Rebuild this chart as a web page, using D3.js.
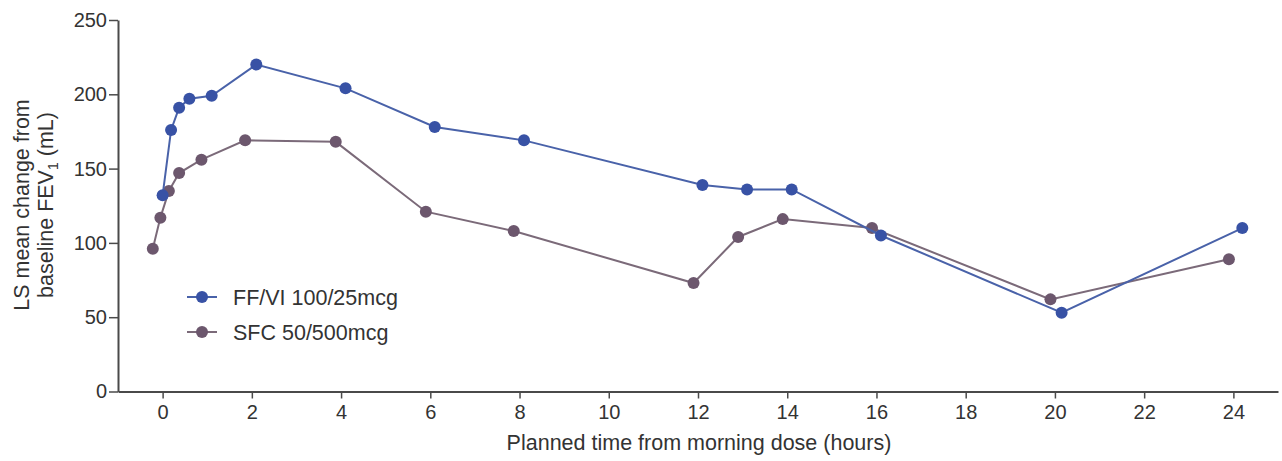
<!DOCTYPE html>
<html>
<head>
<meta charset="utf-8">
<script src="https://cdn.jsdelivr.net/npm/d3@7"></script>
<style>
  html, body { margin: 0; padding: 0; background: #fff; }
  svg { display: block; font-family: "Liberation Sans", Arial, sans-serif; }
</style>
</head>
<body>
<div id="chart"></div>
<script>
// hours after the morning dose (points are nudged apart like the original)
var timesFF = [0.0, 0.19, 0.37, 0.6, 1.1, 2.1, 4.1, 6.1, 8.1, 12.1, 13.1, 14.1, 16.1, 20.15, 24.2];
var valuesFF = [132, 176, 191, 197, 199, 220, 204, 178, 169, 139, 136, 136, 105, 53, 110];
var timesSFC = [-0.22, -0.05, 0.14, 0.37, 0.87, 1.85, 3.88, 5.9, 7.87, 11.9, 12.9, 13.9, 15.9, 19.9, 23.9];
var valuesSFC = [96, 117, 135, 147, 156, 169, 168, 121, 108, 73, 104, 116, 110, 62, 89];
var seriesNames = ['FF/VI 100/25mcg', 'SFC 50/500mcg'];
var xTicks = [0, 2, 4, 6, 8, 10, 12, 14, 16, 18, 20, 22, 24];
var yTicks = [0, 50, 100, 150, 200, 250];

var W = 1282, H = 461;
var axisCol = '#4a4a4a', textCol = '#333';

var svg = d3.select('#chart').append('svg')
	.attr('width', W)
	.attr('height', H);

var x = d3.scaleLinear().domain([-1, 25]).range([118, 1278]);
var y = d3.scaleLinear().domain([0, 250]).range([391.5, 20]);

// axes
var gx = svg.append('g')
	.attr('transform', 'translate(0,' + y(0) + ')')
	.call(d3.axisBottom(x).tickValues(xTicks).tickSize(7).tickPadding(6).tickSizeOuter(0));
var gy = svg.append('g')
	.attr('transform', 'translate(' + x(-1) + ',0)')
	.call(d3.axisLeft(y).tickValues(yTicks).tickSize(9).tickPadding(2).tickSizeOuter(0));

[gx, gy].forEach(function(g) {
	g.select('.domain').attr('stroke', axisCol).attr('stroke-width', 2);
	g.selectAll('.tick line').attr('stroke', axisCol).attr('stroke-width', 1.5);
	g.selectAll('.tick text')
		.attr('fill', textCol)
		.style('font-size', '20px')
		.style('font-family', '"Liberation Sans", Arial, sans-serif');
});

// axis titles
svg.append('text')
	.attr('x', 699)
	.attr('y', 450)
	.attr('text-anchor', 'middle')
	.attr('fill', textCol)
	.style('font-size', '21.5px')
	.text('Planned time from morning dose (hours)');

var yt = svg.append('text')
	.attr('transform', 'translate(29,205) rotate(-90)')
	.attr('text-anchor', 'middle')
	.attr('fill', textCol)
	.style('font-size', '21.5px');
yt.append('tspan').attr('x', 0).attr('y', 0).text('LS mean change from');
var l2 = yt.append('tspan').attr('x', 0).attr('y', 23.5).text('baseline FEV');
yt.append('tspan').attr('dy', 5).style('font-size', '14px').text('1');
yt.append('tspan').attr('dy', -5).text(' (mL)');

// series
var series = [
	{name: seriesNames[1], t: timesSFC, v: valuesSFC, line: '#7b6a79', fill: '#6c576d'},
	{name: seriesNames[0], t: timesFF, v: valuesFF, line: '#4962a9', fill: '#3852a5'}
];

var line = d3.line()
	.x(function(d) { return x(d[0]); })
	.y(function(d) { return y(d[1]); });

series.forEach(function(s) {
	var pts = d3.zip(s.t, s.v);
	svg.append('path')
		.datum(pts)
		.attr('fill', 'none')
		.attr('stroke', s.line)
		.attr('stroke-width', 2)
		.attr('d', line);
	svg.selectAll(null).data(pts)
		.enter().append('circle')
		.attr('cx', function(d) { return x(d[0]); })
		.attr('cy', function(d) { return y(d[1]); })
		.attr('r', 6)
		.attr('fill', s.fill);
});

// legend
var legend = svg.append('g');
[series[1], series[0]].forEach(function(s, i) {
	var ly = 297 + i * 35;
	legend.append('line')
		.attr('x1', 187).attr('x2', 217)
		.attr('y1', ly).attr('y2', ly)
		.attr('stroke', s.line).attr('stroke-width', 2);
	legend.append('circle')
		.attr('cx', 202).attr('cy', ly).attr('r', 6)
		.attr('fill', s.fill);
	legend.append('text')
		.attr('x', 233).attr('y', ly)
		.attr('dy', '0.36em')
		.attr('fill', textCol)
		.style('font-size', '21.5px')
		.text(s.name);
});
</script>
</body>
</html>
